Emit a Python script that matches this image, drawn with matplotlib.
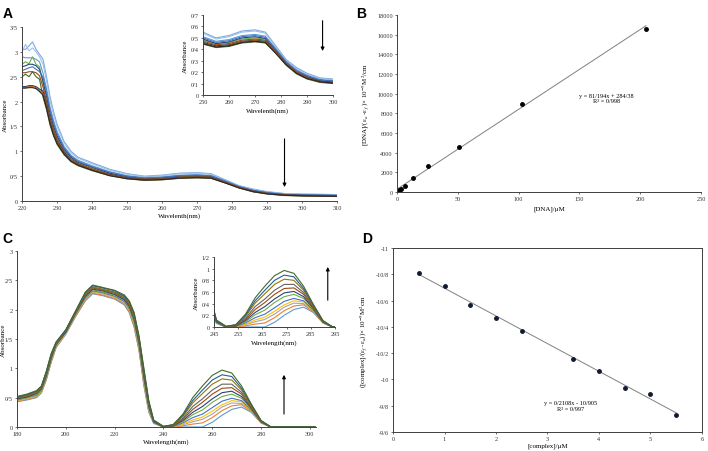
import matplotlib
matplotlib.use("Agg")
import matplotlib.pyplot as plt
from matplotlib.ticker import FuncFormatter, MultipleLocator

plt.rcParams['font.family'] = ['Liberation Serif', 'DejaVu Serif']
plt.rcParams['mathtext.fontset'] = 'stix'

# ---- panel A: UV spectra (DNA titration) ----
wl_a = [220, 221, 222, 223, 224, 225, 226, 227, 228, 229, 230, 232, 234, 236, 240,
        245, 250, 255, 260, 265, 270, 274, 278, 282, 286, 290, 295, 300, 310]
spectra_a = [
    [3.05, 3.05, 3.12, 3.2, 3.05, 2.95, 2.85, 2.5, 2.1, 1.8, 1.55, 1.2, 1.0, 0.88, 0.77,
     0.64, 0.55, 0.50, 0.52, 0.56, 0.57, 0.55, 0.43, 0.31, 0.24, 0.19, 0.15, 0.14, 0.13],
    [3.0, 3.15, 3.02, 3.08, 3.0, 2.9, 2.75, 2.42, 2.03, 1.74, 1.50, 1.17, 0.97, 0.86, 0.75,
     0.62, 0.54, 0.49, 0.51, 0.55, 0.56, 0.54, 0.42, 0.30, 0.23, 0.18, 0.145, 0.135, 0.125],
    [2.9, 2.88, 2.88, 2.88, 2.85, 2.8, 2.57, 2.26, 1.89, 1.62, 1.40, 1.10, 0.92, 0.82, 0.71,
     0.59, 0.51, 0.47, 0.485, 0.52, 0.53, 0.515, 0.405, 0.29, 0.22, 0.17, 0.136, 0.126, 0.116],
    [2.75, 2.8, 2.76, 2.9, 2.75, 2.7, 2.37, 2.08, 1.74, 1.49, 1.29, 1.03, 0.87, 0.77, 0.67,
     0.56, 0.48, 0.45, 0.46, 0.49, 0.50, 0.49, 0.39, 0.28, 0.20, 0.16, 0.126, 0.116, 0.106],
    [2.7, 2.72, 2.75, 2.75, 2.72, 2.65, 2.41, 2.12, 1.77, 1.51, 1.31, 1.05, 0.88, 0.78, 0.68,
     0.56, 0.49, 0.45, 0.465, 0.50, 0.51, 0.495, 0.39, 0.28, 0.21, 0.16, 0.13, 0.12, 0.11],
    [2.62, 2.65, 2.68, 2.7, 2.65, 2.6, 2.49, 2.19, 1.83, 1.57, 1.36, 1.07, 0.90, 0.80, 0.69,
     0.58, 0.50, 0.46, 0.475, 0.51, 0.52, 0.505, 0.40, 0.29, 0.21, 0.17, 0.13, 0.12, 0.11],
    [2.58, 2.58, 2.6, 2.6, 2.58, 2.52, 2.29, 2.01, 1.68, 1.44, 1.25, 1.0, 0.85, 0.75, 0.65,
     0.54, 0.47, 0.44, 0.45, 0.48, 0.49, 0.48, 0.38, 0.275, 0.20, 0.155, 0.12, 0.11, 0.10],
    [2.5, 2.55, 2.5, 2.6, 2.5, 2.45, 2.09, 1.84, 1.53, 1.31, 1.14, 0.93, 0.79, 0.71, 0.61,
     0.51, 0.445, 0.415, 0.425, 0.455, 0.465, 0.455, 0.365, 0.26, 0.185, 0.14, 0.11, 0.10, 0.09],
    [2.3, 2.3, 2.32, 2.32, 2.3, 2.25, 2.21, 1.94, 1.62, 1.38, 1.21, 0.98, 0.82, 0.74, 0.63,
     0.53, 0.46, 0.43, 0.44, 0.47, 0.48, 0.47, 0.37, 0.27, 0.19, 0.15, 0.12, 0.11, 0.10],
    [2.28, 2.28, 2.3, 2.3, 2.28, 2.22, 2.17, 1.9, 1.59, 1.36, 1.18, 0.96, 0.81, 0.73, 0.63,
     0.52, 0.455, 0.42, 0.435, 0.465, 0.475, 0.465, 0.37, 0.27, 0.19, 0.15, 0.115, 0.105, 0.095],
    [2.27, 2.27, 2.28, 2.28, 2.26, 2.2, 2.13, 1.87, 1.56, 1.33, 1.16, 0.95, 0.80, 0.72, 0.62,
     0.51, 0.45, 0.42, 0.43, 0.46, 0.47, 0.46, 0.365, 0.265, 0.19, 0.145, 0.115, 0.105, 0.095],
]
colors_a = ['#7FA7E0', '#9DC3E6', '#5B9BD5', '#70AD47', '#264478', '#4472C4',
            '#9E480E', '#43682B', '#203864', '#C55A11', '#262626']

# ---- panel B: [DNA]/(ea-ef) plot ----
dna_um = [0.4, 0.8, 1.6, 3.2, 6.4, 12.8, 25.6, 51.2, 102.4, 204.8]
dna_ratio = [50, 120, 200, 300, 640, 1400, 2680, 4560, 8950, 16550]
b_slope, b_icept = 81.194, 284.38

# ---- panel C: UV spectra (second titration) ----
wl_c_left = [180, 184, 188, 190, 192, 194, 196, 200, 204, 208, 211, 215, 220, 224,
             226, 228, 230, 232, 234, 236]
wl_c_right = [240, 244, 248, 252, 256, 260, 264, 268, 272, 276, 280, 284, 288, 302]
spectra_c_left = [
    [0.43, 0.46, 0.50, 0.58, 0.80, 1.10, 1.35, 1.58, 1.88, 2.15, 2.27, 2.24, 2.18, 2.08, 1.95, 1.70, 1.30, 0.70, 0.25, 0.06],
    [0.44, 0.47, 0.51, 0.59, 0.81, 1.11, 1.36, 1.59, 1.89, 2.16, 2.28, 2.25, 2.19, 2.10, 1.97, 1.72, 1.32, 0.73, 0.27, 0.07],
    [0.45, 0.48, 0.52, 0.60, 0.83, 1.13, 1.37, 1.59, 1.90, 2.18, 2.30, 2.27, 2.21, 2.11, 1.99, 1.75, 1.35, 0.75, 0.29, 0.07],
    [0.45, 0.49, 0.53, 0.61, 0.84, 1.14, 1.38, 1.60, 1.91, 2.19, 2.31, 2.28, 2.22, 2.13, 2.00, 1.77, 1.37, 0.78, 0.30, 0.08],
    [0.46, 0.50, 0.54, 0.62, 0.85, 1.15, 1.39, 1.61, 1.92, 2.20, 2.32, 2.29, 2.23, 2.14, 2.02, 1.79, 1.39, 0.81, 0.32, 0.08],
    [0.47, 0.50, 0.55, 0.63, 0.87, 1.17, 1.40, 1.62, 1.93, 2.22, 2.34, 2.30, 2.25, 2.16, 2.04, 1.81, 1.41, 0.84, 0.34, 0.09],
    [0.48, 0.51, 0.57, 0.65, 0.88, 1.18, 1.41, 1.62, 1.94, 2.23, 2.35, 2.32, 2.26, 2.17, 2.06, 1.84, 1.44, 0.87, 0.36, 0.09],
    [0.49, 0.52, 0.58, 0.66, 0.90, 1.20, 1.41, 1.63, 1.94, 2.25, 2.37, 2.33, 2.28, 2.19, 2.08, 1.86, 1.46, 0.89, 0.38, 0.10],
    [0.50, 0.53, 0.59, 0.67, 0.91, 1.21, 1.42, 1.64, 1.95, 2.26, 2.38, 2.34, 2.29, 2.20, 2.10, 1.88, 1.48, 0.92, 0.40, 0.10],
    [0.50, 0.54, 0.60, 0.68, 0.92, 1.22, 1.43, 1.65, 1.96, 2.27, 2.39, 2.35, 2.30, 2.22, 2.11, 1.90, 1.51, 0.95, 0.41, 0.11],
    [0.51, 0.55, 0.61, 0.69, 0.94, 1.24, 1.44, 1.65, 1.97, 2.29, 2.41, 2.37, 2.32, 2.23, 2.13, 1.93, 1.53, 0.97, 0.43, 0.11],
    [0.52, 0.56, 0.62, 0.70, 0.95, 1.25, 1.45, 1.66, 1.98, 2.30, 2.42, 2.38, 2.33, 2.25, 2.15, 1.95, 1.55, 1.00, 0.45, 0.12],
]
spectra_c_right = [
    [0.0, 0.0, 0.0, 0.0, 0.0, 0.08, 0.20, 0.30, 0.34, 0.25, 0.07, 0, 0, 0],
    [0.0, 0.0, 0.02, 0.05, 0.07, 0.16, 0.28, 0.36, 0.38, 0.26, 0.07, 0, 0, 0],
    [0.0, 0.01, 0.04, 0.09, 0.13, 0.22, 0.34, 0.41, 0.40, 0.28, 0.08, 0, 0, 0],
    [0.0, 0.01, 0.05, 0.12, 0.17, 0.27, 0.38, 0.45, 0.43, 0.28, 0.08, 0, 0, 0],
    [0.0, 0.01, 0.07, 0.16, 0.22, 0.33, 0.44, 0.49, 0.45, 0.29, 0.08, 0, 0, 0],
    [0.0, 0.02, 0.09, 0.21, 0.29, 0.42, 0.52, 0.56, 0.49, 0.31, 0.09, 0, 0, 0],
    [0.0, 0.02, 0.11, 0.25, 0.35, 0.48, 0.585, 0.61, 0.52, 0.32, 0.09, 0, 0, 0],
    [0.0, 0.02, 0.13, 0.30, 0.42, 0.56, 0.66, 0.67, 0.56, 0.33, 0.09, 0, 0, 0],
    [0.0, 0.03, 0.15, 0.35, 0.48, 0.63, 0.73, 0.73, 0.59, 0.35, 0.10, 0, 0, 0],
    [0.01, 0.03, 0.18, 0.41, 0.57, 0.73, 0.82, 0.80, 0.63, 0.36, 0.10, 0, 0, 0],
    [0.01, 0.04, 0.20, 0.45, 0.63, 0.80, 0.89, 0.86, 0.66, 0.38, 0.11, 0, 0, 0],
    [0.01, 0.04, 0.22, 0.50, 0.70, 0.88, 0.97, 0.92, 0.70, 0.39, 0.11, 0, 0, 0],
]
colors_c = ['#5B9BD5', '#ED7D31', '#A5A5A5', '#FFC000', '#4472C4', '#70AD47',
            '#264478', '#9E480E', '#636363', '#997300', '#255E91', '#43682B']
# inset C axis is labelled 10 nm higher than the main axis
inset_c_ticks = [235, 245, 255, 265, 275, 285]
inset_c_labels = ['245', '255', '265', '275', '285', '295']

# ---- panel D ----
complex_um = [0.5, 1, 1.5, 2, 2.5, 3.5, 4, 4.5, 5, 5.5]
complex_ratio = [-10.807, -10.713, -10.569, -10.467, -10.371, -10.153, -10.067, -9.935, -9.889, -9.727]
d_slope, d_icept = 0.2108, -10.905


def slash(v, pos):
    return f"{v:g}".replace('.', '/')


def style(ax, box=False):
    for s in ['left', 'bottom', 'top', 'right']:
        ax.spines[s].set_color('#404040')
        ax.spines[s].set_linewidth(0.7)
    if not box:
        ax.spines['top'].set_visible(False)
        ax.spines['right'].set_visible(False)
    ax.tick_params(labelsize=4.5, length=1.5, width=0.5, pad=1.5, colors='#333333')
    ax.yaxis.set_major_formatter(FuncFormatter(slash))
    ax.xaxis.set_major_formatter(FuncFormatter(slash))


def arrow(ax, x, y0, y1):
    ax.annotate('', xy=(x, y1), xytext=(x, y0),
                arrowprops=dict(arrowstyle='-|>', lw=0.8, color='black',
                                mutation_scale=5, shrinkA=0, shrinkB=0))


fig = plt.figure(figsize=(7.08, 4.52), dpi=100)

# A
axA = fig.add_axes([0.0311, 0.5531, 0.4449, 0.385])
for row, c in zip(spectra_a, colors_a):
    axA.plot(wl_a, row, color=c, lw=0.8)
axA.set_xlim(220, 310)
axA.set_ylim(0, 3.5)
axA.xaxis.set_major_locator(MultipleLocator(10))
axA.yaxis.set_major_locator(MultipleLocator(0.5))
style(axA)
axA.set_xlabel('Wavelenth(nm)', fontsize=5, labelpad=1.5)
axA.set_ylabel('Absorbance', fontsize=5)
axA.yaxis.set_label_coords(-0.045, 0.5)
arrow(axA, 295, 1.25, 0.28)

axAi = fig.add_axes([0.2867, 0.7876, 0.1836, 0.177])
for row, c in zip(spectra_a, colors_a):
    axAi.plot(wl_a, row, color=c, lw=0.8)
axAi.set_xlim(250, 300)
axAi.set_ylim(0, 0.7)
axAi.xaxis.set_major_locator(MultipleLocator(10))
axAi.yaxis.set_major_locator(MultipleLocator(0.1))
style(axAi)
axAi.set_xlabel('Wavelenth(nm)', fontsize=5, labelpad=2)
axAi.set_ylabel('Absorbance', fontsize=5, labelpad=2)
arrow(axAi, 296, 0.65, 0.385)

# B
axB = fig.add_axes([0.5607, 0.573, 0.4294, 0.3916])
axB.plot([0, dna_um[-1]], [b_icept, b_slope * dna_um[-1] + b_icept], color='#808080', lw=0.7)
axB.plot(dna_um, dna_ratio, 'o', color='black', ms=2.5)
axB.set_xlim(0, 250)
axB.set_ylim(0, 18000)
axB.xaxis.set_major_locator(MultipleLocator(50))
axB.yaxis.set_major_locator(MultipleLocator(2000))
style(axB)
axB.set_xlabel('[DNA]/μM', fontsize=5, labelpad=3)
axB.set_ylabel('[DNA]/(ε$_a$ -ε$_f$ )× 10$^{-9}$M$^2$/cm', fontsize=5, labelpad=4)
axB.text(172, 9550, 'y = 81/194x + 284/38\nR² = 0/998', fontsize=4.5, ha='center', va='center',
         linespacing=1.2)

# C
axC = fig.add_axes([0.024, 0.0531, 0.4223, 0.3894])
for left, right, c in zip(spectra_c_left, spectra_c_right, colors_c):
    axC.plot(wl_c_left + wl_c_right, left + right, color=c, lw=0.8)
axC.set_xlim(180, 302.5)
axC.set_ylim(0, 3)
axC.xaxis.set_major_locator(MultipleLocator(20))
axC.yaxis.set_major_locator(MultipleLocator(0.5))
style(axC)
axC.set_xlabel('Wavelength(nm)', fontsize=5, labelpad=1.5)
axC.set_ylabel('Absorbance', fontsize=5)
axC.yaxis.set_label_coords(-0.038, 0.5)
arrow(axC, 289.4, 0.22, 0.89)

axCi = fig.add_axes([0.3023, 0.2743, 0.1709, 0.1549])
for left, right, c in zip(spectra_c_left, spectra_c_right, colors_c):
    axCi.plot(wl_c_left + wl_c_right, left + right, color=c, lw=0.8)
axCi.set_xlim(235, 285)
axCi.set_ylim(0, 1.2)
axCi.yaxis.set_major_locator(MultipleLocator(0.2))
style(axCi)
axCi.set_xticks(inset_c_ticks, labels=inset_c_labels)
axCi.set_xlabel('Wavelength(nm)', fontsize=5, labelpad=2)
axCi.set_ylabel('Absorbance', fontsize=5, labelpad=2)
arrow(axCi, 282, 0.46, 1.03)

# D
axD = fig.add_axes([0.5551, 0.042, 0.4364, 0.4071])
axD.plot([complex_um[0], complex_um[-1]],
         [d_slope * complex_um[0] + d_icept, d_slope * complex_um[-1] + d_icept],
         color='#808080', lw=0.7)
axD.plot(complex_um, complex_ratio, 'o', color='#111a33', ms=2.5)
axD.set_xlim(0, 6)
axD.set_ylim(-9.6, -11)
axD.xaxis.set_major_locator(MultipleLocator(1))
axD.yaxis.set_major_locator(MultipleLocator(0.2))
style(axD, box=True)
axD.set_xlabel('[complex]/μM', fontsize=5, labelpad=1)
axD.set_ylabel('([complex]/(ε$_f$ -ε$_a$))× 10$^{-9}$M$^2$cm', fontsize=5, labelpad=4)
axD.text(3.45, -9.80, 'y = 0/2108x - 10/905\nR² = 0/997', fontsize=4.5, ha='center', va='center',
         linespacing=1.2)

# panel letters
for lab, x, y in [('A', 0.004, 0.985), ('B', 0.503, 0.985), ('C', 0.004, 0.487), ('D', 0.511, 0.487)]:
    fig.text(x, y, lab, fontsize=10, fontweight='bold', family=['Liberation Sans', 'DejaVu Sans'],
             ha='left', va='top')

fig.savefig('out.png', dpi=100)
